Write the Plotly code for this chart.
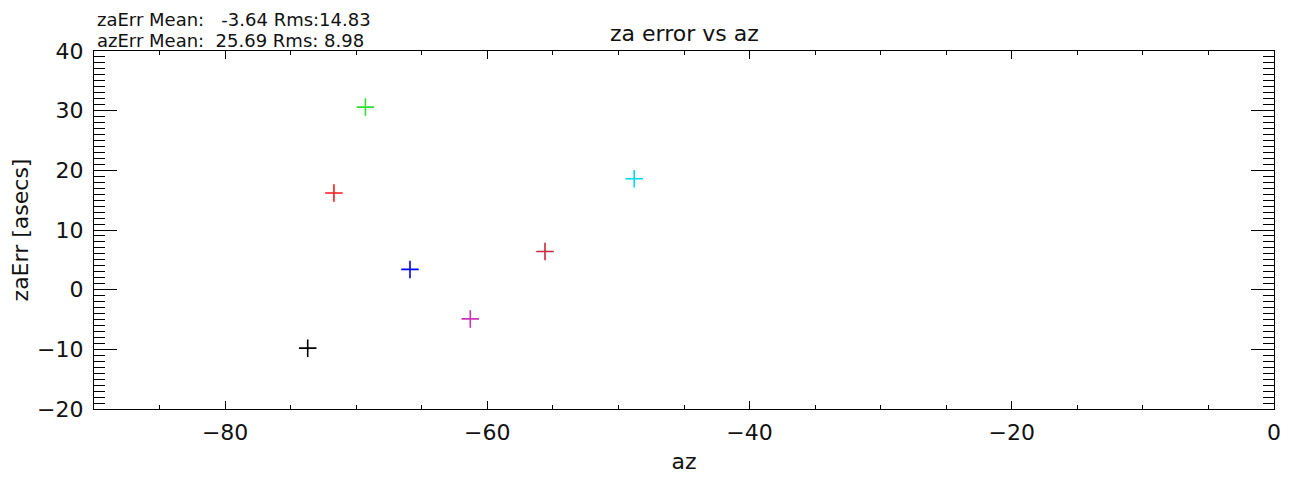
import plotly.graph_objects as go

# ---- data ----
az = [-73.7, -71.7, -69.3, -65.9, -61.3, -55.6, -48.8]
za_err = [-9.8, 16.2, 30.6, 3.4, -4.9, 6.4, 18.6]
point_colors = ["#000000", "#ff1a1a", "#33dd33", "#0000ff", "#cc33bb", "#c8283c", "#00d8f0"]

stats_line1 = "zaErr Mean:   -3.64 Rms:14.83"
stats_line2 = "azErr Mean:  25.69 Rms: 8.98"
title_text = "za error vs az"
x_title = "az"
y_title = "zaErr [asecs]"

# page body has an 8px default margin; compensate so the plot box lands where the reference has it
OFF = 8
W, H = 1302, 477
L, R, T, B = 94 - OFF, 36, 51 - OFF, 76
pw = W - L - R
ph = H - T - B

def px_(sx):
    return (sx - OFF - L) / pw

def py_(sy):
    return (H - B - (sy - OFF)) / ph

FONT = "DejaVu Sans"
fs = 22
hs = 18
tcol = "#111111"

fig = go.Figure()
fig.add_trace(go.Scatter(
    x=az, y=za_err, mode="markers",
    marker=dict(symbol="cross-thin", size=12.5, color=point_colors,
                line=dict(width=1.6, color=point_colors)),
    showlegend=False, hoverinfo="x+y",
))

axis_common = dict(
    showline=True, linecolor="black", linewidth=1.3, mirror="ticks",
    ticks="inside", tickcolor="black", tickwidth=1,
    showgrid=False, zeroline=False, automargin=False,
    tickfont=dict(family=FONT, size=fs, color=tcol),
)

fig.update_xaxes(
    range=[-90, 0], tick0=0, dtick=20, ticklen=8,
    minor=dict(dtick=5, tick0=0, ticklen=4, ticks="inside", tickcolor="black", tickwidth=1),
    ticklabelstandoff=3,
    title=dict(text=x_title, font=dict(family=FONT, size=fs, color=tcol), standoff=10),
    **axis_common,
)
fig.update_yaxes(
    range=[-20, 40], tick0=0, dtick=10, ticklen=23,
    minor=dict(dtick=1, tick0=0, ticklen=11, ticks="inside", tickcolor="black", tickwidth=1),
    ticklabelstandoff=5,
    title=dict(text=y_title, font=dict(family=FONT, size=fs, color=tcol), standoff=19),
    **axis_common,
)

fig.add_annotation(text=stats_line1, xref="paper", yref="paper", x=px_(95), y=py_(20),
                   xanchor="left", yanchor="middle", showarrow=False,
                   font=dict(family=FONT, size=hs, color=tcol))
fig.add_annotation(text=stats_line2, xref="paper", yref="paper", x=px_(95), y=py_(41),
                   xanchor="left", yanchor="middle", showarrow=False,
                   font=dict(family=FONT, size=hs, color=tcol))
fig.add_annotation(text=title_text, xref="paper", yref="paper", x=px_(684), y=py_(33),
                   xanchor="center", yanchor="middle", showarrow=False,
                   font=dict(family=FONT, size=fs, color=tcol))

fig.update_layout(
    width=W, height=H,
    margin=dict(l=L, r=R, t=T, b=B),
    paper_bgcolor="white", plot_bgcolor="white",
)

fig.write_html("out.html")
